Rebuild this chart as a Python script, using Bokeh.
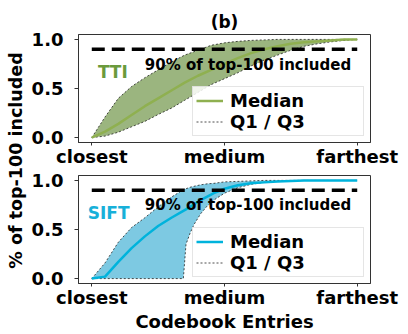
import numpy as np
from bokeh.plotting import figure
from bokeh.layouts import row, column
from bokeh.models import Range1d, FixedTicker, Label, Legend, LegendItem
from bokeh.embed import file_html
from bokeh.resources import INLINE

# ---------------- data ----------------
tti_x = [0.0, 0.05, 0.1, 0.15, 0.2, 0.25, 0.3, 0.35, 0.4, 0.45, 0.5, 0.55,
         0.6, 0.65, 0.7, 0.75, 0.8, 0.85, 0.9, 0.95, 1.0]
tti_q1 = [0.0, 0.015, 0.055, 0.11, 0.165, 0.235, 0.30, 0.38, 0.46, 0.54, 0.60,
          0.66, 0.73, 0.79, 0.84, 0.89, 0.93, 0.955, 0.975, 0.99, 1.0]
tti_median = [0.0, 0.06, 0.14, 0.23, 0.32, 0.40, 0.48, 0.56, 0.63, 0.69, 0.75,
              0.81, 0.86, 0.90, 0.93, 0.955, 0.97, 0.98, 0.99, 1.0, 1.0]
tti_q3 = [0.0, 0.21, 0.40, 0.52, 0.61, 0.69, 0.77, 0.84, 0.89, 0.94, 0.965,
          0.98, 0.99, 0.995, 1.0, 1.0, 1.0, 1.0, 1.0, 1.0, 1.0]

sift_x = [0.0, 0.05, 0.1, 0.15, 0.2, 0.25, 0.3, 0.345, 0.355, 0.37, 0.385,
          0.41, 0.435, 0.46, 0.5, 0.55, 0.6, 0.65, 0.7, 0.75, 0.8, 0.9, 1.0]
sift_q1 = [0.0, 0.0, 0.0, 0.0, 0.0, 0.0, 0.0, 0.0, 0.35, 0.46, 0.55, 0.66,
           0.74, 0.80, 0.87, 0.925, 0.96, 0.98, 0.99, 0.995, 1.0, 1.0, 1.0]
sift_median = [0.0, 0.02, 0.17, 0.31, 0.43, 0.535, 0.62, 0.69, 0.705, 0.73,
               0.755, 0.80, 0.835, 0.87, 0.915, 0.95, 0.97, 0.98, 0.99, 0.995,
               1.0, 1.0, 1.0]
sift_q3 = [0.0, 0.16, 0.37, 0.52, 0.62, 0.73, 0.83, 0.905, 0.915, 0.93, 0.94,
           0.955, 0.965, 0.97, 0.985, 0.99, 0.995, 1.0, 1.0, 1.0, 1.0, 1.0, 1.0]

threshold_x = [0.0, 1.0]
threshold_y = [0.9, 0.9]
threshold_label = "90% of top-100 included"

x_ticks = [0.0, 0.5, 1.0]
x_tick_labels = ["closest", "medium", "farthest"]
y_ticks = [0.0, 0.5, 1.0]
y_tick_labels = ["0.0", "0.5", "1.0"]

FONT = "DejaVu Sans"
DARK = "#333333"


def make_panel(x, q1, med, q3, name, name_color, fill_color, line_color,
               name_xy, height, top_border, bottom_border, title=None,
               xlabel=None):
    p = figure(width=380, height=height, x_range=Range1d(-0.05, 1.05),
               y_range=Range1d(-0.05, 1.05), toolbar_location=None,
               output_backend="svg", min_border_left=50, min_border_right=38,
               min_border_top=top_border, min_border_bottom=bottom_border)
    p.background_fill_color = "white"
    p.border_fill_color = "white"
    p.outline_line_color = DARK
    p.outline_line_width = 1
    p.grid.visible = False

    if title:
        p.title.text = title
        p.title.align = "center"
        p.title.text_font = FONT
        p.title.text_font_style = "bold"
        p.title.text_font_size = "17px"
        p.title.text_color = "black"
        p.title.standoff = 5

    p.varea(x=x, y1=q1, y2=q3, fill_color=fill_color, fill_alpha=1.0)
    q1_r = p.line(x, q1, line_color="#222222", line_width=0.8, line_dash="2 2")
    p.line(x, q3, line_color="#222222", line_width=0.8, line_dash="2 2")
    med_r = p.line(x, med, line_color=line_color, line_width=2.5)
    p.line(threshold_x, threshold_y, line_color="black", line_width=3.5,
           line_dash="13 7")

    p.add_layout(Label(x=name_xy[0], y=name_xy[1], text=name,
                       text_color=name_color, text_font=FONT,
                       text_font_style="bold", text_font_size="17px",
                       text_baseline="alphabetic"))
    p.add_layout(Label(x=0.2, y=name_xy[2], text=threshold_label,
                       text_color="black", text_font=FONT,
                       text_font_style="bold", text_font_size="15px",
                       text_baseline="alphabetic"))

    legend = Legend(items=[LegendItem(label="Median", renderers=[med_r]),
                           LegendItem(label="Q1 / Q3", renderers=[q1_r])],
                    location="bottom_right")
    legend.label_text_font = FONT
    legend.label_text_font_style = "bold"
    legend.label_text_font_size = "18px"
    legend.label_text_color = "black"
    legend.glyph_width = 27
    legend.glyph_height = 17
    legend.label_height = 17
    legend.label_width = 130
    legend.label_standoff = 7
    legend.padding = 3
    legend.spacing = 0
    legend.margin = 6
    legend.border_line_color = "#cccccc"
    legend.border_line_width = 1
    legend.background_fill_alpha = 0.85
    p.add_layout(legend)

    for ax in (p.xaxis[0], p.yaxis[0]):
        ax.axis_line_color = DARK
        ax.major_tick_line_color = DARK
        ax.major_tick_in = 0
        ax.minor_tick_line_color = None
        ax.major_label_text_font = FONT
        ax.major_label_text_font_style = "bold"
        ax.major_label_text_font_size = "18px"
        ax.major_label_text_color = "black"

    p.xaxis.ticker = FixedTicker(ticks=x_ticks)
    p.xaxis.major_label_overrides = dict(zip(x_ticks, x_tick_labels))
    p.xaxis.major_tick_out = 3
    p.xaxis.major_label_standoff = 0
    p.yaxis.ticker = FixedTicker(ticks=y_ticks)
    p.yaxis.major_label_overrides = dict(zip(y_ticks, y_tick_labels))
    p.yaxis.major_tick_out = 4
    p.yaxis.major_label_standoff = 11

    if xlabel:
        p.xaxis.axis_label = xlabel
        p.xaxis.axis_label_text_font = FONT
        p.xaxis.axis_label_text_font_style = "bold"
        p.xaxis.axis_label_text_font_size = "18px"
        p.xaxis.axis_label_text_color = "black"
        p.xaxis.axis_label_standoff = 0
    return p


top = make_panel(tti_x, tti_q1, tti_median, tti_q3, "TTI", "#6b9a3c",
                 "#9bb57f", "#8fb050", (0.023, 0.668, 0.739),
                 height=169, top_border=34, bottom_border=27, title="(b)")
bottom = make_panel(sift_x, sift_q1, sift_median, sift_q3, "SIFT", "#17b0d9",
                    "#7dc9e2", "#00b3dc", (-0.015, 0.664, 0.746),
                    height=165, top_border=6, bottom_border=51,
                    xlabel="Codebook Entries")

lab = figure(width=28, height=334, x_range=Range1d(0, 1), y_range=Range1d(0, 1),
             toolbar_location=None, output_backend="svg", min_border=0,
             x_axis_type=None, y_axis_type=None)
lab.outline_line_color = None
lab.grid.visible = False
lab.add_layout(Label(x=0.57, y=0.521, text="% of top-100 included",
                     angle=np.pi / 2, text_align="center",
                     text_baseline="middle", text_font=FONT,
                     text_font_style="bold", text_font_size="17.5px",
                     text_color="black"))

layout = row(lab, column(top, bottom))

with open("out.html", "w") as f:
    f.write(file_html(layout, INLINE))
